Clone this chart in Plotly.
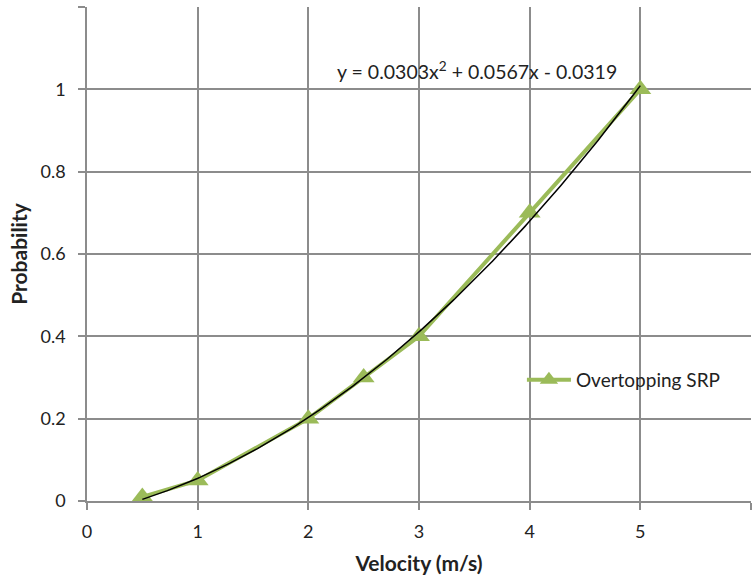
import numpy as np
import plotly.graph_objects as go

velocity = [0.5, 1, 2, 2.5, 3, 4, 5]
probability = [0.01, 0.05, 0.2, 0.3, 0.4, 0.7, 1.0]
trend_coef = [0.0303, 0.0567, -0.0319]  # a, b, c from the equation label
x_ticks = [0, 1, 2, 3, 4, 5, 6]
y_ticks = [0, 0.2, 0.4, 0.6, 0.8, 1.0, 1.2]
y_ticklabels = ["0", "0.2", "0.4", "0.6", "0.8", "1", ""]

xt = np.linspace(min(velocity), max(velocity), 200)
yt = np.polyval(trend_coef, xt)

GREEN = "#9BBB59"
GRID = "#8c8c8c"
FONT = "Lato, Open Sans, sans-serif"
TXT = "#222"

fig = go.Figure()
fig.add_trace(go.Scatter(
    x=velocity, y=probability, mode="lines+markers", name="Overtopping SRP",
    line=dict(color=GREEN, width=4),
    marker=dict(symbol="triangle-up", size=19, color=GREEN),
))
fig.add_trace(go.Scatter(
    x=xt, y=yt, mode="lines", showlegend=False,
    line=dict(color="black", width=1.5),
))

fig.update_layout(
    width=755, height=578,
    margin=dict(l=87, r=4, t=7, b=77, autoexpand=False),
    paper_bgcolor="white", plot_bgcolor="white",
    font=dict(family=FONT, size=18, color=TXT),
    showlegend=True,
    legend=dict(x=0.655, y=0.245, xanchor="left", yanchor="middle",
                bgcolor="rgba(0,0,0,0)", font=dict(size=19, color=TXT),
                itemwidth=44),
    xaxis=dict(range=[0, 6], tickvals=x_ticks, showgrid=True, gridcolor=GRID,
               gridwidth=1.5, showline=True, linecolor=GRID, linewidth=1.5,
               ticks="outside", ticklen=7, tickcolor=GRID, tickwidth=1.5,
               zeroline=False, tickfont=dict(size=18, color=TXT),
               ticklabelstandoff=7,
               title=dict(text="<b>Velocity (m/s)</b>", font=dict(size=21, color=TXT), standoff=15)),
    yaxis=dict(range=[0, 1.2], tickvals=y_ticks, ticktext=y_ticklabels,
               showgrid=True, gridcolor=GRID, gridwidth=1.5, showline=True,
               linecolor=GRID, linewidth=1.5, ticks="outside", ticklen=7,
               tickcolor=GRID, tickwidth=1.5, zeroline=False,
               tickfont=dict(size=18, color=TXT),
               ticklabelstandoff=9,
               title=dict(text="<b>Probability</b>", font=dict(size=21, color=TXT), standoff=7)),
)

fig.add_annotation(
    x=3.52, y=1.045, xref="x", yref="y", showarrow=False,
    text="y = 0.0303x<sup>2</sup> + 0.0567x - 0.0319",
    font=dict(size=19.5, color=TXT),
)

fig.write_html("out.html", config={"displayModeBar": False},
               post_script="document.body.style.margin='0';")
